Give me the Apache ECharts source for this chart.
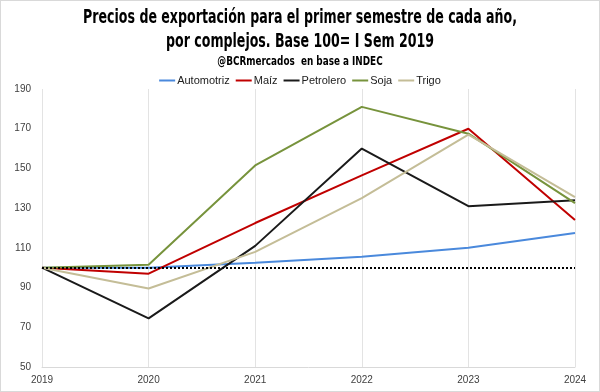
<!DOCTYPE html>
<html>
<head>
<meta charset="utf-8">
<script src="https://cdn.jsdelivr.net/npm/echarts@6/dist/echarts.min.js"></script>
<style>
html,body{margin:0;padding:0;background:#fff;}
#c{width:598px;height:390px;border:1px solid #d9d9d9;}
</style>
</head>
<body>
<div id="c"></div>
<script>
const years = ['2019','2020','2021','2022','2023','2024'];
const automotriz = [100, 100, 102.5, 105.5, 110, 117.5];
const maiz = [100, 97, 122.5, 146.5, 170, 124];
const petrolero = [100, 74.5, 111, 160, 131, 134];
const soja = [100, 101.5, 151.5, 181, 167.5, 132.5];
const trigo = [100, 89.5, 108, 135, 167, 135.5];
const baseline = 100;
const yTicks = [50, 70, 90, 110, 130, 150, 170, 190];
const titleLines = ['Precios de exportación para el primer semestre de cada año,', 'por complejos. Base 100= I Sem 2019'];
const subtitle = '@BCRmercados  en base a INDEC';

const names = ['Automotriz','Maíz','Petrolero','Soja','Trigo'];
const colors = ['#4a89dc','#c00000','#1a1a1a','#77933c','#c4bd97'];
const datas = [automotriz, maiz, petrolero, soja, trigo];

const chart = echarts.init(document.getElementById('c'));
const series = names.map((n,i)=>({
  name:n, type:'line', data:datas[i], symbol:'none',
  lineStyle:{color:colors[i], width:2}, itemStyle:{color:colors[i]},
  z: 2
}));
series.push({
  name:'base', type:'line', data:[], symbol:'none',
  markLine:{symbol:'none', silent:true, label:{show:false},
    lineStyle:{color:'#000', type:[2,2], width:2},
    data:[{yAxis: baseline}]}
});
const condensed = '"DejaVu Sans Condensed", "DejaVu Sans"';
function txt(t, y, size, sx){
  return {type:'text', x:299, y:y, scaleX:sx, silent:true,
    style:{text:t, textAlign:'center', textVerticalAlign:'middle', fill:'#000',
      font:'bold '+size+'px '+condensed}};
}
chart.setOption({
  animation:false,
  graphic:[
    txt(titleLines[0], 17, 20, 0.70),
    txt(titleLines[1], 41, 20, 0.70),
    txt(subtitle, 61, 12, 0.82)
  ],
  legend:{data:names, top:69, left:'center', icon:'rect', itemWidth:16, itemHeight:2, itemGap:6,
    textStyle:{fontFamily:'Liberation Sans', fontSize:11, color:'#202020', padding:[0,0,0,-3]}},
  grid:{left:41, right:24, top:88, bottom:24},
  xAxis:{type:'category', data:years, boundaryGap:false,
    axisLine:{lineStyle:{color:'#d9d9d9'}}, axisTick:{show:false},
    axisLabel:{color:'#404040', fontSize:10, fontFamily:'Liberation Sans', margin:8},
    splitLine:{show:true, lineStyle:{color:'#e3e3e3', width:1}}},
  yAxis:{type:'value', min:yTicks[0], max:yTicks[yTicks.length-1], interval:20,
    axisLine:{show:false}, axisTick:{show:false}, splitLine:{show:false},
    axisLabel:{color:'#404040', fontSize:10, fontFamily:'Liberation Sans', margin:11}},
  series:series
});
</script>
</body>
</html>
